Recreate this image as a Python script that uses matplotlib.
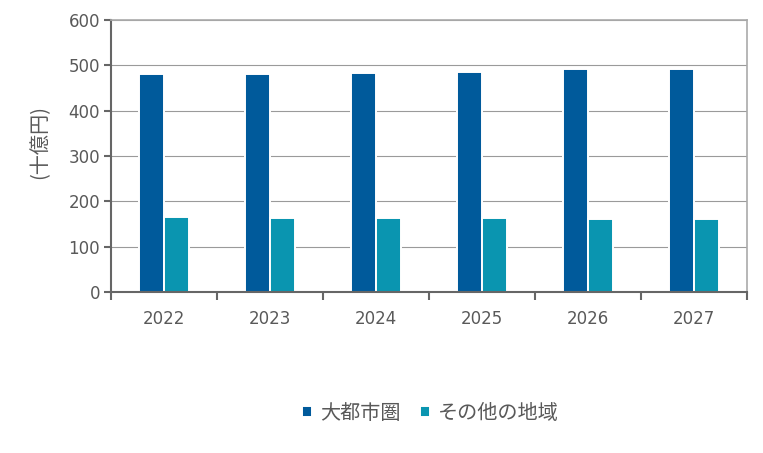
import numpy as np
import matplotlib.pyplot as plt
from matplotlib.ticker import FixedLocator, NullFormatter

plt.rcParams['font.family'] = ['DejaVu Sans', 'Noto Sans CJK JP']
jp = ['Noto Sans CJK JP', 'DejaVu Sans']

# データ (十億円)
years = ['2022', '2023', '2024', '2025', '2026', '2027']
metro = [482, 482, 484, 486, 491, 493]
other = [166, 164, 164, 164, 162, 162]
labels = ['大都市圏', 'その他の地域']

c_metro = '#005A9B'
c_other = '#0A95B0'
txt = '#595959'

fig = plt.figure(figsize=(7.63, 4.53), dpi=100)
ax = fig.add_axes([0.1455, 0.3554, 0.8335, 0.6004])

x = np.arange(len(years))
w = 0.236
ax.bar(x - w/2, metro, w, color=c_metro, edgecolor='white', linewidth=1.4, label=labels[0], zorder=2)
ax.bar(x + w/2, other, w, color=c_other, edgecolor='white', linewidth=1.4, label=labels[1], zorder=2)

ax.set_xlim(-0.5, len(years) - 0.5)
ax.set_ylim(0, 600)
ax.set_yticks(range(0, 601, 100))
ax.yaxis.grid(True, color='#9a9a9a', linewidth=0.8, zorder=0)
ax.set_axisbelow(True)

# 目盛り: 区切り位置に主目盛り、中央にラベル
ax.xaxis.set_major_locator(FixedLocator(np.arange(-0.5, len(years), 1.0)))
ax.xaxis.set_major_formatter(NullFormatter())
ax.xaxis.set_minor_locator(FixedLocator(x))
ax.set_xticklabels(years, minor=True)
ax.tick_params(axis='x', which='major', length=6, width=1.5, color='#666666', direction='out')
ax.tick_params(axis='x', which='minor', length=0, pad=13, labelsize=12, labelcolor=txt)
ax.tick_params(axis='y', length=5, width=1.5, color='#666666', labelsize=12, labelcolor=txt, pad=3)

for s in ['left', 'bottom']:
    ax.spines[s].set_color('#666666')
    ax.spines[s].set_linewidth(1.5)
for s in ['top', 'right']:
    ax.spines[s].set_color('#aaaaaa')
    ax.spines[s].set_linewidth(1.2)

ax.set_ylabel('(十億円)', fontsize=14.5, color=txt, family=jp)
ax.yaxis.set_label_coords(-0.095, 0.55)

leg = fig.legend(loc='center', bbox_to_anchor=(0.564, 0.088), ncol=2, frameon=False,
                 handlelength=0.5, handleheight=0.5, handletextpad=0.4,
                 columnspacing=1.0, labelcolor=txt, prop={'family': jp, 'size': 14.5})

fig.savefig('out.png', dpi=100)
